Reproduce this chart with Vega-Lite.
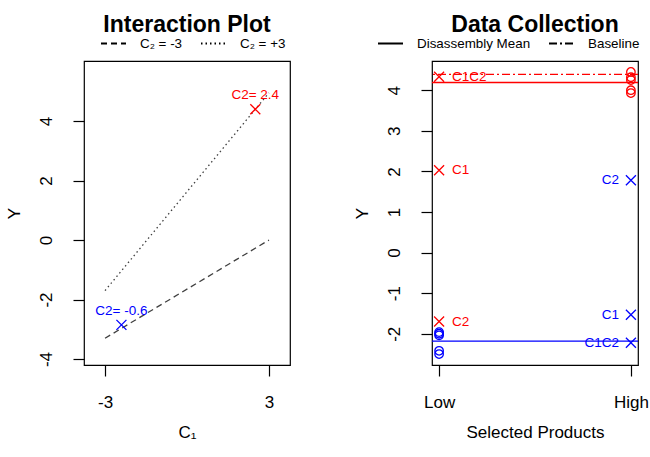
{
  "$schema": "https://vega.github.io/schema/vega-lite/v6.json",
  "background": "white",
  "padding": {"left": 4, "top": 13, "right": 0, "bottom": 0},
  "spacing": 61,
  "config": {
    "font": "Liberation Sans",
    "view": {"stroke": "black", "strokeWidth": 1.2},
    "axis": {
      "grid": false,
      "domain": false,
      "tickColor": "black",
      "tickSize": 11,
      "tickWidth": 1.2,
      "labelFont": "Liberation Sans",
      "titleFont": "Liberation Sans",
      "labelFontSize": 17,
      "titleFontSize": 17,
      "titleFontWeight": "normal",
      "labelColor": "black",
      "titleColor": "black"
    },
    "axisY": {"labelAngle": -90, "labelAlign": "center", "labelBaseline": "bottom", "labelPadding": 18, "titlePadding": 14},
    "axisX": {"labelAngle": 0, "labelPadding": 18, "titlePadding": 14},
    "title": {"font": "Liberation Sans", "fontSize": 23, "fontWeight": "bold", "color": "black", "anchor": "middle", "frame": "group", "offset": -7},
    "legend": {
      "orient": "none",
      "direction": "horizontal",
      "title": null,
      "symbolType": "stroke",
      "symbolStrokeColor": "black",
      "symbolStrokeWidth": 2,
      "symbolSize": 625,
      "labelFont": "Liberation Sans",
      "labelFontSize": 13.4,
      "labelColor": "black",
      "labelOffset": 13,
      "columnPadding": 14
    }
  },
  "resolve": {
    "scale": {"color": "independent", "strokeDash": "independent", "x": "independent", "y": "independent"},
    "legend": {"strokeDash": "independent"}
  },
  "hconcat": [
    {
      "width": 206,
      "height": 304,
      "title": {"text": "Interaction Plot"},
      "layer": [
        {
          "data": {
            "values": [
              {"C1": -3, "Y": -3.3, "C2": "C₂ = -3"},
              {"C1": 3, "Y": 0.0, "C2": "C₂ = -3"},
              {"C1": -3, "Y": -1.7, "C2": "C₂ = +3"},
              {"C1": 3, "Y": 4.95, "C2": "C₂ = +3"}
            ]
          },
          "mark": {"type": "line", "color": "#404040", "strokeWidth": 1.3},
          "encoding": {
            "x": {"field": "C1", "type": "quantitative", "scale": {"domain": [-3.77, 3.77], "nice": false, "zero": false}, "axis": {"values": [-3, 3], "title": "C₁", "labelExpr": "replace(datum.label, '\u2212', '-')"}},
            "y": {"field": "Y", "type": "quantitative", "scale": {"domain": [-4.2, 6.02], "nice": false, "zero": false}, "axis": {"values": [-4, -2, 0, 2, 4], "title": "Y", "labelExpr": "replace(datum.label, '\u2212', '-')"}},
            "strokeDash": {
              "field": "C2", "type": "nominal",
              "scale": {"domain": ["C₂ = -3", "C₂ = +3"], "range": [[6, 4], [1.5, 3]]},
              "legend": {
                "legendX": 16,
                "legendY": -31,
                "encode": {"symbols": {"update": {"strokeDash": {"signal": "datum.label === 'C₂ = +3' ? [4, 4] : [9, 6]"}}}}
              }
            }
          }
        },
        {
          "data": {
            "values": [
              {"C1": 2.5, "Y": 4.4, "label": "C2= 2.4", "grp": "high"},
              {"C1": -2.4, "Y": -2.85, "label": "C2= -0.6", "grp": "low"}
            ]
          },
          "layer": [
            {
              "mark": {"type": "point", "shape": "M-1,-1L1,1M1,-1L-1,1", "filled": false, "size": 100, "strokeWidth": 1.3, "opacity": 1},
              "encoding": {
                "x": {"field": "C1", "type": "quantitative"},
                "y": {"field": "Y", "type": "quantitative"},
                "color": {"field": "grp", "type": "nominal", "scale": {"domain": ["high", "low"], "range": ["#ff0000", "#0000ff"]}, "legend": null}
              }
            },
            {
              "mark": {"type": "text", "fontSize": 13.5, "align": "center", "baseline": "alphabetic", "dy": -10},
              "encoding": {
                "x": {"field": "C1", "type": "quantitative"},
                "y": {"field": "Y", "type": "quantitative"},
                "text": {"field": "label"},
                "color": {"field": "grp", "type": "nominal", "scale": {"domain": ["high", "low"], "range": ["#ff0000", "#0000ff"]}, "legend": null}
              }
            }
          ]
        }
      ]
    },
    {
      "width": 206,
      "height": 304,
      "title": {"text": "Data Collection"},
      "layer": [
        {
          "data": {
            "values": [
              {"Y": 4.19, "grp": "red", "kind": "Disassembly Mean"},
              {"Y": -2.18, "grp": "blue", "kind": "Disassembly Mean"},
              {"Y": 4.39, "grp": "red", "kind": "Baseline"}
            ]
          },
          "mark": {"type": "rule", "strokeWidth": 1.3},
          "encoding": {
            "y": {"field": "Y", "type": "quantitative", "scale": {"domain": [-2.77, 4.72], "nice": false, "zero": false}, "axis": {"values": [-2, -1, 0, 1, 2, 3, 4], "title": "Y", "labelExpr": "replace(datum.label, '\u2212', '-')"}},
            "color": {"field": "grp", "type": "nominal", "scale": {"domain": ["red", "blue"], "range": ["#ff0000", "#0000ff"]}, "legend": null},
            "strokeDash": {
              "field": "kind", "type": "nominal",
              "scale": {"domain": ["Disassembly Mean", "Baseline"], "range": [[1, 0], [8, 3, 2, 3]]},
              "legend": {
                "legendX": -55,
                "legendY": -31,
                "encode": {"symbols": {"update": {"strokeDash": {"signal": "datum.label === 'Baseline' ? [4, 3, 10, 3] : [1, 0]"}}}}
              }
            }
          }
        },
        {
          "data": {
            "values": [
              {"prod": "Low", "Y": -1.96, "grp": "blue"},
              {"prod": "Low", "Y": -2.0, "grp": "blue"},
              {"prod": "Low", "Y": -2.04, "grp": "blue"},
              {"prod": "Low", "Y": -2.42, "grp": "blue"},
              {"prod": "Low", "Y": -2.5, "grp": "blue"},
              {"prod": "High", "Y": 4.45, "grp": "red"},
              {"prod": "High", "Y": 4.32, "grp": "red"},
              {"prod": "High", "Y": 4.25, "grp": "red"},
              {"prod": "High", "Y": 4.0, "grp": "red"},
              {"prod": "High", "Y": 3.93, "grp": "red"}
            ]
          },
          "mark": {"type": "point", "shape": "circle", "filled": false, "size": 72, "strokeWidth": 1.3, "opacity": 1},
          "encoding": {
            "x": {"field": "prod", "type": "nominal", "scale": {"type": "point", "domain": ["Low", "High"], "padding": 0.037}, "axis": {"title": "Selected Products", "labelAngle": 0}},
            "y": {"field": "Y", "type": "quantitative"},
            "color": {"field": "grp", "type": "nominal", "scale": {"domain": ["red", "blue"], "range": ["#ff0000", "#0000ff"]}, "legend": null}
          }
        },
        {
          "data": {
            "values": [
              {"prod": "Low", "Y": 4.33, "grp": "red", "label": "C1C2"},
              {"prod": "Low", "Y": 2.03, "grp": "red", "label": "C1"},
              {"prod": "Low", "Y": -1.7, "grp": "red", "label": "C2"},
              {"prod": "High", "Y": 1.78, "grp": "blue", "label": "C2"},
              {"prod": "High", "Y": -1.53, "grp": "blue", "label": "C1"},
              {"prod": "High", "Y": -2.22, "grp": "blue", "label": "C1C2"}
            ]
          },
          "layer": [
            {
              "mark": {"type": "point", "shape": "M-1,-1L1,1M1,-1L-1,1", "filled": false, "size": 100, "strokeWidth": 1.3, "opacity": 1},
              "encoding": {
                "x": {"field": "prod", "type": "nominal"},
                "y": {"field": "Y", "type": "quantitative"},
                "color": {"field": "grp", "type": "nominal", "scale": {"domain": ["red", "blue"], "range": ["#ff0000", "#0000ff"]}, "legend": null}
              }
            },
            {
              "transform": [{"filter": "datum.grp === 'red'"}],
              "mark": {"type": "text", "fontSize": 13.5, "align": "left", "baseline": "middle", "dx": 13},
              "encoding": {
                "x": {"field": "prod", "type": "nominal"},
                "y": {"field": "Y", "type": "quantitative"},
                "text": {"field": "label"},
                "color": {"field": "grp", "type": "nominal", "scale": {"domain": ["red", "blue"], "range": ["#ff0000", "#0000ff"]}, "legend": null}
              }
            },
            {
              "transform": [{"filter": "datum.grp === 'blue'"}],
              "mark": {"type": "text", "fontSize": 13.5, "align": "right", "baseline": "middle", "dx": -12},
              "encoding": {
                "x": {"field": "prod", "type": "nominal"},
                "y": {"field": "Y", "type": "quantitative"},
                "text": {"field": "label"},
                "color": {"field": "grp", "type": "nominal", "scale": {"domain": ["red", "blue"], "range": ["#ff0000", "#0000ff"]}, "legend": null}
              }
            }
          ]
        }
      ]
    }
  ]
}
